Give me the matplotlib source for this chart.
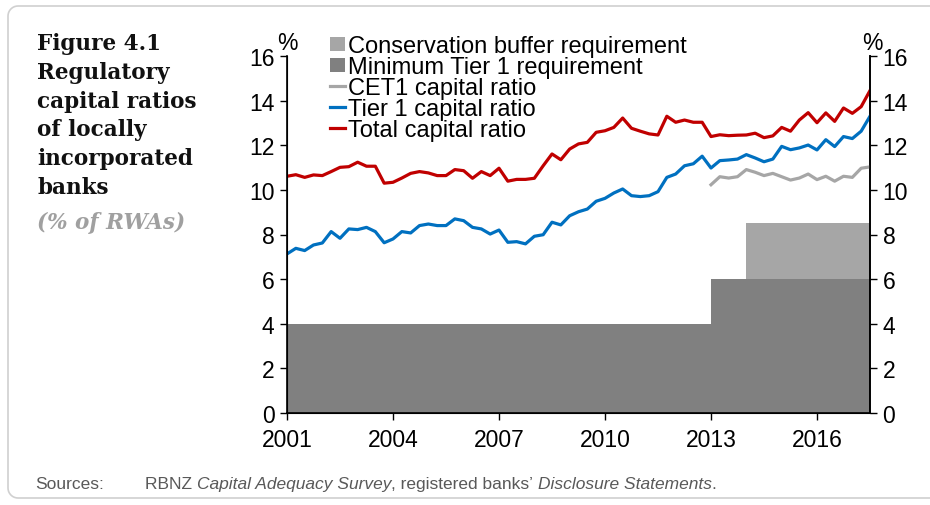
import matplotlib.pyplot as plt
import numpy as np
from matplotlib.patches import Patch
from matplotlib.lines import Line2D

# quarterly data, 2001 Q1 to 2017 Q3
quarters = 2001 + 0.25 * np.arange(67)

total_ratio = [10.61, 10.68, 10.56, 10.67, 10.64, 10.82, 11.01, 11.04, 11.24, 11.06,
               11.06, 10.30, 10.34, 10.53, 10.74, 10.82, 10.76, 10.64, 10.64, 10.91,
               10.86, 10.52, 10.82, 10.64, 10.97, 10.39, 10.47, 10.47, 10.52, 11.08,
               11.61, 11.35, 11.83, 12.06, 12.13, 12.58, 12.65, 12.80, 13.22, 12.76,
               12.63, 12.51, 12.46, 13.30, 13.03, 13.13, 13.03, 13.03, 12.39, 12.47,
               12.43, 12.45, 12.46, 12.54, 12.34, 12.42, 12.80, 12.63, 13.13, 13.46,
               13.01, 13.45, 13.07, 13.67, 13.43, 13.73, 14.45]

tier1_ratio = [7.13, 7.38, 7.28, 7.53, 7.62, 8.13, 7.83, 8.25, 8.22, 8.32,
               8.13, 7.63, 7.80, 8.13, 8.07, 8.40, 8.47, 8.40, 8.40, 8.70,
               8.62, 8.32, 8.25, 8.02, 8.20, 7.65, 7.68, 7.58, 7.92, 7.99,
               8.55, 8.43, 8.84, 9.02, 9.14, 9.49, 9.62, 9.86, 10.04, 9.74,
               9.70, 9.74, 9.92, 10.56, 10.71, 11.08, 11.17, 11.51, 10.98, 11.31,
               11.34, 11.38, 11.58, 11.43, 11.26, 11.38, 11.95, 11.80, 11.88, 12.01,
               11.79, 12.25, 11.94, 12.39, 12.30, 12.63, 13.30]

# CET1 reported from 2013 Q1
cet1_start = 48
cet1_ratio = [10.23, 10.59, 10.53, 10.59, 10.91, 10.79, 10.64, 10.74, 10.59, 10.44,
              10.53, 10.71, 10.46, 10.61, 10.39, 10.61, 10.56, 10.97, 11.03]

# requirements (step changes)
req_dates = [2001, 2013, 2017.5]
min_tier1 = [4, 6, 6]
buffer_dates = [2014, 2017.5]
buffer_req = [2.5, 2.5]

RED = "#C00000"
BLUE = "#0070C0"
GREY_LINE = "#A6A6A6"
DARK_AREA = "#808080"
LIGHT_AREA = "#A6A6A6"
TXT = 16.5

fig = plt.figure(figsize=(9.3, 5.06), dpi=100)
plt.rcParams['font.family'] = ['Liberation Sans', 'DejaVu Sans']

# rounded frame on the left side, open to the right (pixel coords, origin bottom-left)
r = 10
left, top, bottom = 8, 506 - 7, 506 - 499
t1 = np.linspace(np.pi / 2, np.pi, 10)
t2 = np.linspace(np.pi, 1.5 * np.pi, 10)
fx = np.concatenate([[960], left + r + r * np.cos(t1), left + r + r * np.cos(t2), [960]])
fy = np.concatenate([[top], top - r + r * np.sin(t1), bottom + r + r * np.sin(t2), [bottom]])
fig.add_artist(Line2D(fx / 930, fy / 506, transform=fig.transFigure,
                      color="#D0D0D0", lw=1.2, zorder=0))

ax = fig.add_axes([287 / 930, 1 - 414 / 506, (870 - 287) / 930, (414 - 57) / 506])

ax.fill_between(req_dates, 0, min_tier1, step="post", color=DARK_AREA, lw=0, zorder=1)
base = [6] * len(buffer_dates)
ax.fill_between(buffer_dates, base, np.array(base) + np.array(buffer_req),
                step="post", color=LIGHT_AREA, lw=0, zorder=1)

ax.plot(quarters[cet1_start:], cet1_ratio, color=GREY_LINE, lw=2.3, zorder=3)
ax.plot(quarters, tier1_ratio, color=BLUE, lw=2.3, zorder=3)
ax.plot(quarters, total_ratio, color=RED, lw=2.3, zorder=3)

ax.set_xlim(2001, 2017.5)
ax.set_ylim(0, 16)
ax.set_yticks(range(0, 17, 2))
ax.set_xticks([2001, 2004, 2007, 2010, 2013, 2016])
ax.tick_params(axis="both", direction="out", length=5, width=1, labelsize=TXT, pad=4)
ax.tick_params(axis="x", pad=6)
ax.spines["top"].set_visible(False)
for s in ["left", "right", "bottom"]:
    ax.spines[s].set_linewidth(1.2)

ax2 = ax.twinx()
ax2.set_ylim(0, 16)
ax2.set_yticks(range(0, 17, 2))
ax2.tick_params(axis="y", direction="out", length=5, width=1, labelsize=TXT, pad=4)
ax2.spines["top"].set_visible(False)
ax2.spines["right"].set_linewidth(1.2)

fig.text(287 / 930, 1 - 44 / 506, "%", ha="center", va="center", fontsize=TXT)
fig.text(872 / 930, 1 - 44 / 506, "%", ha="center", va="center", fontsize=TXT)

handles = [
    Patch(facecolor=LIGHT_AREA, edgecolor="none"),
    Patch(facecolor=DARK_AREA, edgecolor="none"),
    Line2D([], [], color=GREY_LINE, lw=2.3),
    Line2D([], [], color=BLUE, lw=2.3),
    Line2D([], [], color=RED, lw=2.3),
]
labels = ["Conservation buffer requirement", "Minimum Tier 1 requirement",
          "CET1 capital ratio", "Tier 1 capital ratio", "Total capital ratio"]
leg = ax.legend(handles, labels, loc="upper left", bbox_to_anchor=(330 / 930, 1 - 36 / 506),
                bbox_transform=fig.transFigure, frameon=False, fontsize=17,
                handlelength=0.65, handleheight=0.55, handletextpad=0.1,
                labelspacing=-0.04, borderpad=0, borderaxespad=0)
leg.set_zorder(5)

fig.text(37 / 930, 1 - 33 / 506,
         "Figure 4.1\nRegulatory\ncapital ratios\nof locally\nincorporated\nbanks",
         ha="left", va="top", fontsize=15.5, fontweight="bold",
         family="DejaVu Serif", linespacing=1.4, color="#111111")
fig.text(37 / 930, 1 - 212 / 506, "(% of RWAs)", ha="left", va="top",
         fontsize=15.5, fontweight="bold", style="italic",
         family="DejaVu Serif", color="#A0A0A0")

# sources line with italic pieces
SRC = "#595959"
fig.text(35 / 930, 1 - 485 / 506, "Sources:", ha="left", va="center",
         fontsize=12.5, color=SRC)
pieces = [("RBNZ ", "normal"), ("Capital Adequacy Survey", "italic"),
          (", registered banks\u2019 ", "normal"), ("Disclosure Statements", "italic"),
          (".", "normal")]
fig.canvas.draw()
renderer = fig.canvas.get_renderer()
x = 145 / 930
for txt, st in pieces:
    t = fig.text(x, 1 - 485 / 506, txt, ha="left", va="center", fontsize=12.5,
                 color=SRC, style=st)
    bb = t.get_window_extent(renderer)
    x = fig.transFigure.inverted().transform((bb.x1, bb.y0))[0]

fig.savefig("out.png", dpi=100)
